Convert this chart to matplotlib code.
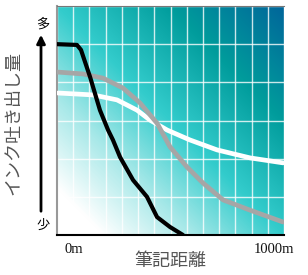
import numpy as np
import matplotlib
matplotlib.use("Agg")
import matplotlib.pyplot as plt
from matplotlib.colors import LinearSegmentedColormap

plt.rcParams['font.family'] = ['Noto Sans CJK JP', 'DejaVu Sans']

# data in grid units (14 columns x 6 rows)
black_x = [0, 1.23, 1.48, 2.04, 2.65, 3.15, 3.45, 3.89, 4.69, 5.55, 6.17, 6.97, 7.77]
black_y = [5.00, 4.98, 4.85, 4.14, 3.27, 2.75, 2.49, 2.04, 1.44, 1.00, 0.47, 0.21, 0.0]
gray_x = [0, 1.60, 2.84, 4.07, 5.12, 6.17, 6.97, 8.02, 9.01, 10.24, 11.91, 13.94]
gray_y = [4.27, 4.22, 4.11, 3.85, 3.46, 2.93, 2.31, 1.78, 1.36, 0.92, 0.65, 0.34]
white_x = [0.06, 2.22, 3.70, 4.94, 5.74, 6.79, 8.20, 9.87, 11.91, 13.94]
white_y = [3.72, 3.67, 3.54, 3.27, 3.01, 2.75, 2.49, 2.23, 2.02, 1.89]

x_labels = ["0m", "1000m"]
y_title = "インク吐き出し量"
x_title = "筆記距離"

W, H = 308, 275
fig = plt.figure(figsize=(W / 100, H / 100), dpi=100)
ax = fig.add_axes([57 / W, 40 / H, 227 / W, 229 / H])

# diagonal background gradient
cmap = LinearSegmentedColormap.from_list(
    "bg", [(0, "#ffffff"), (0.1, "#ffffff"), (0.3, "#a6e8e8"), (0.5, "#33cccc"),
           (0.75, "#009c9c"), (1, "#00669a")])
u = np.linspace(0, 1, 300)
v = np.linspace(0, 1, 300)
U, V = np.meshgrid(u, v)
ax.imshow((U + V) / 2, cmap=cmap, extent=[0, 14, 0, 6], origin="lower",
          aspect="auto", vmin=0, vmax=1, zorder=0)

ax.set_xlim(0, 14)
ax.set_ylim(0, 6)
ax.set_xticks(range(15))
ax.set_yticks(range(7))
ax.grid(True, color="white", lw=1, alpha=0.8)
ax.tick_params(length=0, labelbottom=False, labelleft=False)

ax.plot(white_x, white_y, color="white", lw=3.4, solid_capstyle="round", zorder=3)
ax.plot(gray_x, gray_y, color="#a6a6a6", lw=3.4, solid_capstyle="round", zorder=3)
ax.plot(black_x, black_y, color="black", lw=3, solid_capstyle="round", zorder=4)

ax.spines["left"].set_color("#999999")
ax.spines["left"].set_linewidth(1.5)
ax.spines["bottom"].set_color("black")
ax.spines["bottom"].set_linewidth(1.5)
ax.spines["top"].set_color("#777777")
ax.spines["right"].set_visible(False)

ax.text(0.074, -0.065, x_labels[0], transform=ax.transAxes, ha="center", va="center",
        fontsize=10.5, family="Liberation Serif", color="#111111")
ax.text(0.955, -0.065, x_labels[1], transform=ax.transAxes, ha="center", va="center",
        fontsize=10.5, family="Liberation Serif", color="#111111")

fig.text(170 / W, 1 - 261 / H, x_title, ha="center", va="center", fontsize=13,
         color="#555555")
fig.text(13 / W, 1 - 123 / H, y_title, ha="center", va="center", fontsize=13,
         rotation=90, color="#555555")

# arrow along the y axis
fig.add_artist(matplotlib.patches.FancyArrowPatch(
    (41 / W, 1 - 214 / H), (41 / W, 1 - 32 / H), transform=fig.transFigure,
    arrowstyle="-|>,head_length=5,head_width=2.5", color="black", lw=2))
fig.text(43 / W, 1 - 24 / H, "多", ha="center", va="center", fontsize=9.5)
fig.text(43 / W, 1 - 225 / H, "少", ha="center", va="center", fontsize=9.5)

fig.savefig("out.png", dpi=100)
